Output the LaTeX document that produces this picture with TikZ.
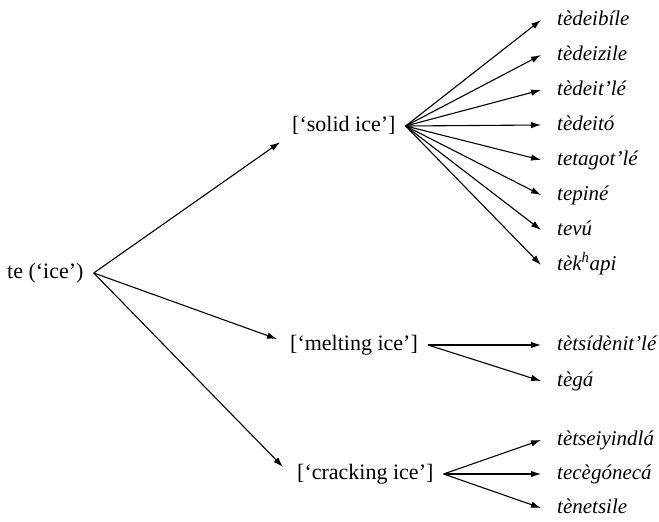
\documentclass[tikz,border=0pt]{standalone}
\usepackage{fontspec}
\setmainfont{Liberation Serif}
\usetikzlibrary{arrows.meta}
\begin{document}
\begin{tikzpicture}[x=1pt,y=-1pt,
  mid/.style={anchor=west, inner xsep=10pt, inner ysep=0pt, text height=15pt, text depth=5pt, font=\fontsize{22}{26}\selectfont},
  word/.style={anchor=west, inner xsep=16pt, inner ysep=0pt, text height=15pt, text depth=5pt, font=\fontsize{21}{25}\selectfont\itshape},
  arr/.style={line width=1.1pt, -{Latex[length=10pt,width=6.5pt]}}]
\useasboundingbox (0,0) rectangle (659,522);

\node[mid] (te) at (-3,273) {te (`ice')};
\node[mid] (solid) at (282,126) {[`solid ice']};
\node[mid] (melt) at (280,345) {[`melting ice']};
\node[mid] (crack) at (287,474) {[`cracking ice']};

\node[word] (s1) at (541,20) {tèdeibíle};
\node[word] (s2) at (541,55) {tèdeizile};
\node[word] (s3) at (541,90) {tèdeit'lé};
\node[word] (s4) at (541,125) {tèdeitó};
\node[word] (s5) at (541,160) {tetagot'lé};
\node[word] (s6) at (541,195) {tepiné};
\node[word] (s7) at (541,230) {tevú};
\node[word] (s8) at (541,265) {tèk\textsuperscript{h}api};

\node[word] (m1) at (541,345) {tètsídènit'lé};
\node[word] (m2) at (541,381) {tègá};

\node[word] (c1) at (541,440) {tètseiyindlá};
\node[word] (c2) at (541,474) {tecègónecá};
\node[word] (c3) at (541,508) {tènetsile};

\draw[arr] (te.east) -- ([shift={(-2pt,-6pt)}]solid.south west);
\draw[arr] (te.east) -- ([shift={(-3pt,6pt)}]melt.west);
\draw[arr] (te.east) -- ([shift={(-4pt,7pt)}]crack.west);

\foreach \t in {s1,s2,s3,s4,s5,s6,s7,s8}
  \draw[arr] (solid.east) -- (\t.west);
\foreach \t in {m1,m2}
  \draw[arr] (melt.east) -- (\t.west);
\foreach \t in {c1,c2,c3}
  \draw[arr] (crack.east) -- (\t.west);
\end{tikzpicture}
\end{document}
